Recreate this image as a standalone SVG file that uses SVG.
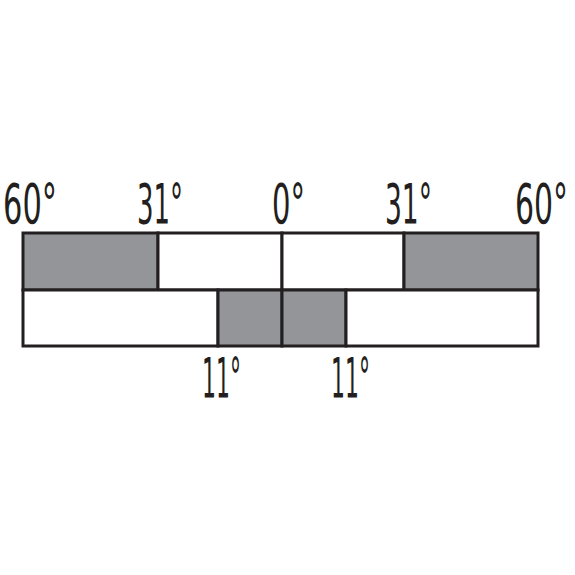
<svg xmlns="http://www.w3.org/2000/svg" width="575" height="575" viewBox="0 0 575 575">
<style>
.cell{stroke:#231f20;stroke-width:3;}
.g{fill:#939598;}
.w{fill:#ffffff;}
.lbl{font-family:"Liberation Sans Narrow","DejaVu Sans Condensed","Liberation Sans",sans-serif;font-size:56px;fill:#231f20;}
</style>
<rect width="575" height="575" fill="#ffffff"/>
<g id="row-top">
<rect id="top-left-60-31" class="cell g" x="23" y="233" width="135" height="57"/>
<rect id="top-left-31-0" class="cell w" x="158" y="233" width="124" height="57"/>
<rect id="top-right-0-31" class="cell w" x="282" y="233" width="122" height="57"/>
<rect id="top-right-31-60" class="cell g" x="404" y="233" width="134" height="57"/>
</g>
<g id="row-bottom">
<rect id="bot-left-white" class="cell w" x="23" y="290" width="195" height="56"/>
<rect id="bot-left-11-0" class="cell g" x="218" y="290" width="64" height="56"/>
<rect id="bot-right-0-11" class="cell g" x="282" y="290" width="64" height="56"/>
<rect id="bot-right-white" class="cell w" x="346" y="290" width="192" height="56"/>
</g>
<g id="labels">
<text class="lbl" x="3" y="223" textLength="54" lengthAdjust="spacingAndGlyphs">60°</text>
<text class="lbl" x="137" y="223" textLength="46" lengthAdjust="spacingAndGlyphs">31°</text>
<text class="lbl" x="272" y="223" textLength="33" lengthAdjust="spacingAndGlyphs">0°</text>
<text class="lbl" x="385" y="223" textLength="47" lengthAdjust="spacingAndGlyphs">31°</text>
<text class="lbl" x="568" y="223" text-anchor="end" textLength="53" lengthAdjust="spacingAndGlyphs">60°</text>
<text class="lbl" x="202" y="397" textLength="39" lengthAdjust="spacingAndGlyphs">11°</text>
<text class="lbl" x="331" y="397" textLength="39" lengthAdjust="spacingAndGlyphs">11°</text>
</g>
</svg>
